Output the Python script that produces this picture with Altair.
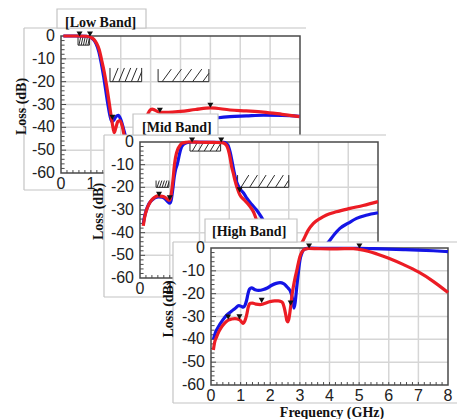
import altair as alt
import numpy as np
import pandas as pd

W, H = 449, 411

# ---------------- data (GHz, dB) ----------------
low_blue_f = [0.08, 0.5, 0.85, 1.0, 1.1, 1.18, 1.27, 1.35, 1.43, 1.5, 1.57, 1.64, 1.7, 1.76, 1.84, 1.92, 2.0, 2.1,
              2.3, 2.6, 3.0, 3.5, 4.0, 4.6, 5.27, 5.66, 6.2, 6.77, 7.4, 7.98]
low_blue_db = [0, 0, -0.1, -0.7, -1.8, -3.6, -7, -12, -18, -24, -30, -35, -37.5, -37, -35.3, -34.8, -36.5, -41,
               -50, -53, -50, -45, -40.5, -37.5, -35.8, -35.3, -35.0, -34.7, -34.8, -35.2]
low_red_f = [0.08, 0.5, 0.85, 1.0, 1.1, 1.19, 1.28, 1.36, 1.45, 1.53, 1.6, 1.66, 1.72, 1.78, 1.83, 1.9, 1.97, 2.05,
             2.14, 2.3, 2.5, 2.65, 2.78, 2.87, 2.96, 3.05, 3.15, 3.31, 3.6, 4.0, 4.5, 5.0, 5.66, 6.2, 6.77, 7.4, 7.98]
low_red_db = [0, 0, -0.1, -0.6, -1.5, -3.2, -6, -10.5, -16, -22, -28, -33.5, -38.5, -42.3, -40.5, -37.5, -37, -39.5,
              -45.5, -55, -58, -50, -40, -35.5, -32.8, -32, -32.5, -33.4, -33.4, -33.0, -32.2, -31.5, -32.4, -32.8,
              -33.3, -34.3, -35.3]
low_mk_f = [0.62, 0.97, 1.72, 3.31, 5.0]
low_mk_db = [0, 0, -36.5, -33.4, -31.2]

mid_blue_f = [0.11, 0.16, 0.22, 0.3, 0.39, 0.5, 0.62, 0.75, 0.84, 0.93, 1.0, 1.05, 1.1, 1.15, 1.2, 1.25, 1.3, 1.36,
              1.45, 1.6, 1.75, 2.5, 2.8, 2.9, 2.97, 3.03, 3.1, 3.16, 3.22, 3.3, 3.38, 3.48, 3.59, 3.75, 3.92, 4.05,
              4.14, 4.4, 4.8, 5.3, 5.8, 6.1, 6.39, 6.55, 6.72, 7.0, 7.28, 7.6, 8.0]
mid_blue_db = [-36, -32.5, -29.8, -27.3, -25.8, -24.6, -24.2, -24.4, -25, -26.3, -27, -25.5, -21, -15.5, -12, -10,
               -7, -3.5, -1.2, -0.2, 0, -0.1, -0.2, -0.6, -1.8, -4.5, -9, -13, -16.5, -19.3, -21, -22.5, -24.8,
               -27.5, -30, -32.5, -34.4, -40, -46, -51, -51, -47.5, -43.2, -40.5, -38.1, -35.8, -33.7, -32.3, -31.2]
mid_red_f = [0.11, 0.16, 0.22, 0.3, 0.39, 0.5, 0.62, 0.75, 0.84, 0.93, 0.98, 1.03, 1.08, 1.12, 1.15, 1.18, 1.22,
             1.26, 1.33, 1.4, 1.55, 1.63, 2.0, 2.5, 2.75, 2.86, 2.92, 2.97, 3.03, 3.08, 3.14, 3.19, 3.27, 3.36, 3.5,
             3.7, 3.82, 3.92, 4.1, 4.3, 4.6, 4.9, 5.2, 5.49, 5.65, 5.83, 6.05, 6.27, 6.6, 7.06, 7.5, 8.0]
mid_red_db = [-37, -33, -30, -27.5, -25.6, -24.3, -23.8, -24, -24.4, -25.3, -25.7, -24.5, -20, -15.3, -11, -7.9,
              -5.2, -3.5, -1.8, -0.6, -0.1, 0, -0.1, -0.2, -0.3, -0.8, -1.8, -3.5, -7, -10.9, -14, -16.8, -20.4,
              -23.4, -25.5, -28.5, -31, -34.4, -40, -45, -50, -52, -49, -43.2, -39, -35.9, -33.8, -32.2, -30.8,
              -29.3, -28, -26.3]
mid_mk_f = [0.64, 1.0, 1.75, 2.73, 3.35]
mid_mk_db = [-24, -25.5, 0, 0, -22]

high_blue_f = [0.08, 0.15, 0.25, 0.4, 0.53, 0.68, 0.81, 0.94, 1.03, 1.09, 1.15, 1.2, 1.25, 1.3, 1.37, 1.49, 1.6,
               1.77, 1.9, 2.05, 2.2, 2.33, 2.45, 2.55, 2.62, 2.67, 2.72, 2.76, 2.8, 2.84, 2.88, 2.92, 2.96, 3.0,
               3.06, 3.12, 3.2, 3.29, 4.0, 5.0, 5.5, 6.0, 6.5, 7.0, 7.5, 8.0]
high_blue_db = [-40, -37, -34.5, -31.5, -29.4, -27.8, -26.5, -25.2, -25.6, -25.9, -25, -23, -20, -18, -17.5, -18.3,
                -18.6, -18.2, -17.5, -16.3, -15.5, -15.2, -15.6, -16.8, -17.8, -18.6, -20.5, -22.8, -26.3, -24,
                -19, -14, -9.5, -5.5, -2.5, -0.9, -0.3, 0, -0.2, -0.1, -0.3, -0.5, -0.7, -0.9, -1.2, -1.6]
high_red_f = [0.08, 0.12, 0.19, 0.27, 0.36, 0.47, 0.58, 0.7, 0.81, 0.9, 0.98, 1.04, 1.09, 1.14, 1.2, 1.26, 1.32,
              1.4, 1.52, 1.66, 1.8, 1.99, 2.15, 2.27, 2.36, 2.42, 2.47, 2.52, 2.56, 2.59, 2.62, 2.65, 2.69, 2.73,
              2.78, 2.84, 2.9, 2.95, 3.0, 3.06, 3.12, 3.2, 3.3, 3.6, 4.0, 4.5, 4.8, 5.0, 5.3, 5.6, 6.0, 6.5, 7.0,
              7.5, 8.0]
high_red_db = [-44.7, -41.5, -38.9, -36.5, -34.5, -32.8, -31.6, -31.1, -30.9, -31.1, -31.6, -32.5, -33, -32, -29.5,
               -25.8, -24.2, -24.1, -24.6, -24.8, -24.3, -23.5, -23.2, -23.2, -23.4, -24, -26, -29, -31.8, -32.4,
               -31.5, -29.4, -25.5, -21, -17, -13, -9.6, -6.5, -3.8, -2, -0.9, -0.4, -0.2, -0.3, -0.4, -0.3, -0.3,
               -0.6, -1.4, -2.6, -4.5, -7.3, -10.5, -14.6, -19.5]
high_mk_f = [0.58, 0.96, 1.71, 2.69, 3.31, 5.01]
high_mk_db = [-31.1, -31, -23.8, -25, 0, 0]

# masks: (f_start, f_end, top dB, bottom dB, hatch step)
low_masks = [(0.57, 0.95, 0, -4, 0.075), (1.64, 2.7, -14, -20, 0.21), (3.25, 4.95, -14.5, -20, 0.34)]
mid_masks = [(0.54, 0.97, -17, -20, 0.085), (1.68, 2.71, 0, -4, 0.2), (3.28, 5.0, -14.6, -20, 0.29)]
high_masks = []

y_ticks = [0, -10, -20, -30, -40, -50, -60]
x_ticks = [0, 1, 2, 3, 4, 5, 6, 7, 8]

# ---------------- layout (pixels inside the chart) ----------------
LOW = dict(x0=53, x8=292, y0=28, y60=165, frame=(16, 298, 20, 182), tab=(49, 138, 1, 20),
           tabtext=(57, 14.5), ytitle=(14, 98.5))
MID = dict(x0=132, x8=370, y0=134, y60=270, frame=(96, 378, 127, 289), tab=(125, 210, 106, 127),
           tabtext=(134, 119.5), ytitle=(90.5, 203.5))
HIGH = dict(x0=203, x8=440, y0=240, y60=377, frame=(165, 449, 234, 395), tab=(197, 289, 211, 234),
            tabtext=(204, 224), ytitle=(160.5, 301))

BLUE = "#1414e6"
RED = "#ec1c24"
GRID = "#d6d6d6"
AXIS = "#4a4a4a"
FRAME = "#c4c4c4"
LABEL_FONT = "Liberation Sans"
TITLE_FONT = "Liberation Serif"
one = pd.DataFrame({"a": [0]})


def panel(g, title, bf, bdb, rf, rdb, mf, mdb, masks, xtitle=None):
    xs = alt.Scale(domain=[0, 8], range=[g["x0"], g["x8"]], nice=False, zero=False)
    ys = alt.Scale(domain=[-60, 0], range=[g["y60"], g["y0"]], nice=False, zero=False)

    def X(f):
        return alt.X(f, type="quantitative", scale=xs, axis=None)

    def Y(f):
        return alt.Y(f, type="quantitative", scale=ys, axis=None)

    fx0, fx1, fy0, fy1 = g["frame"]
    tx0, tx1, ty0, ty1 = g["tab"]
    parts = []
    parts.append(alt.Chart(one).mark_rect(fill="white").encode(
        x=alt.value(fx0), x2=alt.value(fx1), y=alt.value(fy0), y2=alt.value(fy1)))
    for enc in [dict(x=alt.value(fx0), x2=alt.value(fx1), y=alt.value(fy0)),
                dict(x=alt.value(fx0), x2=alt.value(fx1), y=alt.value(fy1)),
                dict(x=alt.value(fx0), y=alt.value(fy0), y2=alt.value(fy1))]:
        parts.append(alt.Chart(one).mark_rule(color=FRAME, strokeWidth=1.2).encode(**enc))
    parts.append(alt.Chart(one).mark_rect(fill="white", stroke=FRAME, strokeWidth=1.2).encode(
        x=alt.value(tx0), x2=alt.value(tx1), y=alt.value(ty0), y2=alt.value(ty1)))
    parts.append(alt.Chart(one).mark_text(text=title, font=TITLE_FONT, fontWeight="bold", fontSize=14,
                                          align="left", baseline="middle", color="#111").encode(
        x=alt.value(g["tabtext"][0]), y=alt.value(g["tabtext"][1])))

    # gridlines
    vg = pd.DataFrame({"f": [1, 2, 3, 4, 5, 6, 7], "lo": -60, "hi": 0})
    hg = pd.DataFrame({"v": [-10, -20, -30, -40, -50], "lo": 0, "hi": 8})
    parts.append(alt.Chart(vg).mark_rule(color=GRID, strokeWidth=1.5).encode(x=X("f"), y=Y("lo"), y2="hi:Q"))
    parts.append(alt.Chart(hg).mark_rule(color=GRID, strokeWidth=1.5).encode(y=Y("v"), x=X("lo"), x2="hi:Q"))
    # plot border
    bd = pd.DataFrame({"a": [0], "b": [8], "c": [-60], "d": [0]})
    parts.append(alt.Chart(bd).mark_rect(fill="transparent", stroke=AXIS, strokeWidth=1.5).encode(
        x=X("a"), x2="b:Q", y=Y("c"), y2="d:Q"))
    # minor ticks
    yt = np.arange(-58, 0, 2)
    ytd = pd.DataFrame({"v": yt, "a": 0, "b": np.where(yt % 10 == 0, 0.17, 0.12)})
    parts.append(alt.Chart(ytd).mark_rule(color=AXIS, strokeWidth=1).encode(y=Y("v"), x=X("a"), x2="b:Q"))
    xt = np.round(np.arange(0.2, 8.0, 0.2), 2)
    xtd = pd.DataFrame({"f": xt, "a": -60, "b": -58.7})
    parts.append(alt.Chart(xtd).mark_rule(color=AXIS, strokeWidth=1).encode(x=X("f"), y=Y("a"), y2="b:Q"))

    # masks
    for (m0, m1, mt, mb, step) in masks:
        segs = [(m0, m1, mb, mb), (m0, m0, mt, mb), (m1, m1, mt, mb)]
        w = step * 0.9
        xi = m0 + step * 0.4
        while xi < m1 - 0.02:
            segs.append((xi, min(xi + w, m1), mb, mt if xi + w <= m1 else mb + (mt - mb) * (m1 - xi) / w))
            xi += step
        sd = pd.DataFrame(segs, columns=["a", "b", "c", "d"])
        parts.append(alt.Chart(sd).mark_rule(color="#2a2a2a", strokeWidth=1).encode(
            x=X("a"), x2="b:Q", y=Y("c"), y2="d:Q"))

    # curves
    parts.append(alt.Chart(pd.DataFrame({"f": bf, "db": bdb})).mark_line(
        color=BLUE, strokeWidth=3.2, interpolate="monotone").encode(x=X("f"), y=Y("db")))
    parts.append(alt.Chart(pd.DataFrame({"f": rf, "db": rdb})).mark_line(
        color=RED, strokeWidth=3.2, interpolate="monotone").encode(x=X("f"), y=Y("db")))
    parts.append(alt.Chart(pd.DataFrame({"f": mf, "db": mdb})).mark_point(
        shape="triangle-down", filled=True, color="#111", size=36, opacity=1, yOffset=-2).encode(
        x=X("f"), y=Y("db")))

    # tick labels
    yl = pd.DataFrame({"f": 0, "v": y_ticks, "t": [str(v) for v in y_ticks]})
    parts.append(alt.Chart(yl).mark_text(align="right", baseline="middle", dx=-6, fontSize=16,
                                         font=LABEL_FONT, color="#222").encode(x=X("f"), y=Y("v"), text="t:N"))
    xl = pd.DataFrame({"f": x_ticks, "v": -60, "t": [str(v) for v in x_ticks]})
    parts.append(alt.Chart(xl).mark_text(align="center", baseline="middle", dy=11, fontSize=16,
                                         font=LABEL_FONT, color="#222").encode(x=X("f"), y=Y("v"), text="t:N"))
    # titles
    parts.append(alt.Chart(one).mark_text(text="Loss  (dB)", angle=270, font=TITLE_FONT, fontWeight="bold",
                                          fontSize=14, align="center", baseline="middle", color="#111").encode(
        x=alt.value(g["ytitle"][0]), y=alt.value(g["ytitle"][1])))
    if xtitle:
        parts.append(alt.Chart(one).mark_text(text=xtitle[0], font=TITLE_FONT, fontWeight="bold", fontSize=14,
                                              align="center", baseline="middle", color="#111").encode(
            x=alt.value(xtitle[1]), y=alt.value(xtitle[2])))
    return alt.layer(*parts)


low = panel(LOW, "[Low Band]", low_blue_f, low_blue_db, low_red_f, low_red_db, low_mk_f, low_mk_db, low_masks)
mid = panel(MID, "[Mid Band]", mid_blue_f, mid_blue_db, mid_red_f, mid_red_db, mid_mk_f, mid_mk_db, mid_masks)
high = panel(HIGH, "[High Band]", high_blue_f, high_blue_db, high_red_f, high_red_db, high_mk_f, high_mk_db,
             high_masks, xtitle=("Frequency  (GHz)", 324, 404.5))

chart = alt.layer(low, mid, high).resolve_scale(x="independent", y="independent").properties(
    width=W, height=H, padding=0, autosize=alt.AutoSizeParams(type="none"), background="white"
).configure_view(strokeWidth=0)

chart.save("out.html", embed_options={"renderer": "svg", "actions": False})
